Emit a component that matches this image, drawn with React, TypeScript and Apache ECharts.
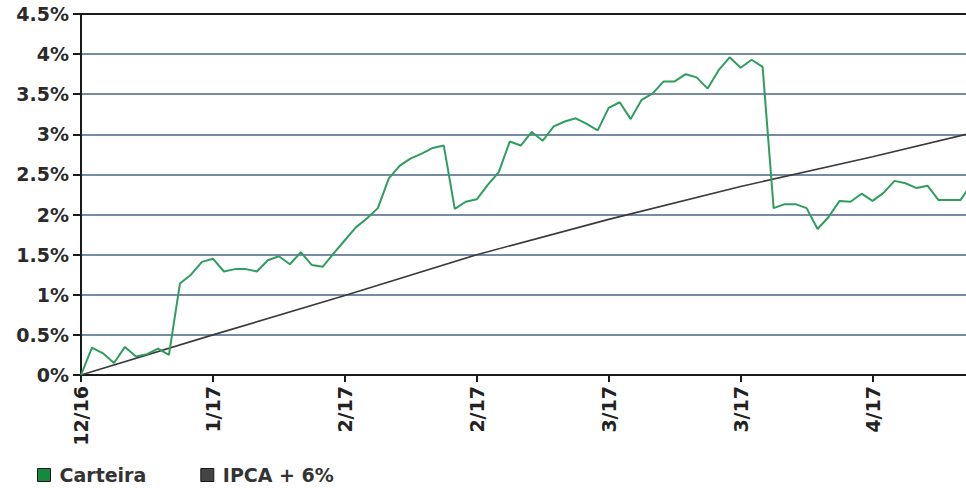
import React, { useEffect, useRef } from "react";
import * as echarts from "echarts";

// Tick labels of the horizontal axis and the day index where each sits
const xTickLabels = ["12/16", "1/17", "2/17", "2/17", "3/17", "3/17", "4/17"];
const xTickIndex = [0, 12, 24, 36, 48, 60, 72];

// Carteira accumulated return (%), one value per trading day
const carteira = [
  0.0, 0.34, 0.27, 0.15, 0.35, 0.23, 0.26, 0.33, 0.25, 1.14,
  1.25, 1.41, 1.45, 1.29, 1.32, 1.32, 1.29, 1.43, 1.48, 1.38,
  1.53, 1.37, 1.35, 1.52, 1.68, 1.84, 1.95, 2.08, 2.45, 2.61,
  2.7, 2.76, 2.83, 2.86, 2.07, 2.16, 2.19, 2.37, 2.53, 2.91,
  2.86, 3.03, 2.92, 3.1, 3.16, 3.2, 3.13, 3.05, 3.33, 3.4,
  3.19, 3.43, 3.51, 3.66, 3.66, 3.75, 3.71, 3.57, 3.8, 3.96,
  3.83, 3.93, 3.84, 2.08, 2.13, 2.13, 2.08, 1.82, 1.97, 2.17,
  2.16, 2.26, 2.17, 2.27, 2.42, 2.39, 2.33, 2.36, 2.18, 2.18,
  2.18, 2.38,
];

// IPCA + 6% benchmark (%), at the day indices where its slope changes
const ipcaIndex = [0, 12, 24, 36, 48, 60, 72, 80.5];
const ipcaValues = [0, 0.5, 0.99, 1.5, 1.94, 2.35, 2.72, 3.0];

const seriesNames = ["Carteira", "IPCA + 6%"];

const FONT = "DejaVu Sans";

export default function App() {
  const ref = useRef<HTMLDivElement>(null);

  useEffect(() => {
    if (!ref.current) return;
    const chart = echarts.init(ref.current, null, { renderer: "svg" });
    const labelFor = (v: number) => {
      const k = xTickIndex.indexOf(Math.round(v));
      return k >= 0 && Math.abs(v - xTickIndex[k]) < 1e-6 ? xTickLabels[k] : "";
    };
    chart.setOption({
      animation: false,
      backgroundColor: "#ffffff",
      grid: { left: 81, right: 0, top: 14, bottom: 113, containLabel: false },
      legend: {
        left: 37,
        top: 462,
        padding: 0,
        itemWidth: 13,
        itemHeight: 13,
        itemGap: 54,
        icon: "rect",
        textStyle: {
          fontFamily: FONT,
          fontWeight: "bold",
          fontSize: 19,
          lineHeight: 26,
          color: "#333333",
          padding: [0, 0, 0, 4],
        },
        data: [
          { name: seriesNames[0], itemStyle: { color: "#17893f", borderColor: "#1a1a1a", borderWidth: 1 } },
          { name: seriesNames[1], itemStyle: { color: "#444444", borderColor: "#1a1a1a", borderWidth: 1 } },
        ],
      },
      xAxis: [
        {
          type: "value",
          min: 0,
          max: 80.5,
          interval: 12,
          position: "bottom",
          axisLine: { show: true, onZero: false, lineStyle: { color: "#1a1a1a", width: 2 } },
          axisTick: {
            show: true,
            length: 7,
            customValues: xTickIndex,
            lineStyle: { color: "#1a1a1a", width: 2 },
          },
          axisLabel: {
            show: true,
            rotate: 90,
            margin: 11,
            customValues: xTickIndex,
            formatter: (v: number) => labelFor(v),
            fontFamily: FONT,
            fontWeight: "bold",
            fontSize: 19,
            color: "#222222",
          },
          splitLine: { show: false },
        },
        {
          type: "value",
          min: 0,
          max: 80.5,
          position: "top",
          axisLine: { show: true, onZero: false, lineStyle: { color: "#1a1a1a", width: 2 } },
          axisTick: { show: false },
          axisLabel: { show: false },
          splitLine: { show: false },
        },
      ],
      yAxis: {
        type: "value",
        min: 0,
        max: 4.5,
        interval: 0.5,
        axisLine: { show: true, onZero: false, lineStyle: { color: "#1a1a1a", width: 2 } },
        axisTick: { show: true, length: 8, lineStyle: { color: "#1a1a1a", width: 2 } },
        axisLabel: {
          margin: 12,
          formatter: (v: number) => `${v}%`,
          fontFamily: FONT,
          fontWeight: "bold",
          fontSize: 19,
          color: "#2b2b2b",
        },
        splitLine: {
          show: true,
          showMinLine: false,
          showMaxLine: false,
          lineStyle: { color: "#4a6586", width: 1.6 },
        },
      },
      series: [
        {
          name: seriesNames[1],
          type: "line",
          xAxisIndex: 0,
          data: ipcaIndex.map((x, i) => [x, ipcaValues[i]]),
          showSymbol: false,
          symbol: "none",
          itemStyle: { color: "#444444" },
          lineStyle: { color: "#3a3a3a", width: 1.6 },
          z: 3,
        },
        {
          name: seriesNames[0],
          type: "line",
          xAxisIndex: 0,
          data: carteira.map((v, i) => [i, v]),
          showSymbol: false,
          symbol: "none",
          clip: true,
          itemStyle: { color: "#17893f" },
          lineStyle: { color: "#2f9d5f", width: 2 },
          z: 4,
        },
      ],
    });
    return () => chart.dispose();
  }, []);

  return (
    <div
      ref={ref}
      style={{ position: "fixed", left: 0, top: 0, width: 966, height: 488, background: "#fff" }}
    />
  );
}
